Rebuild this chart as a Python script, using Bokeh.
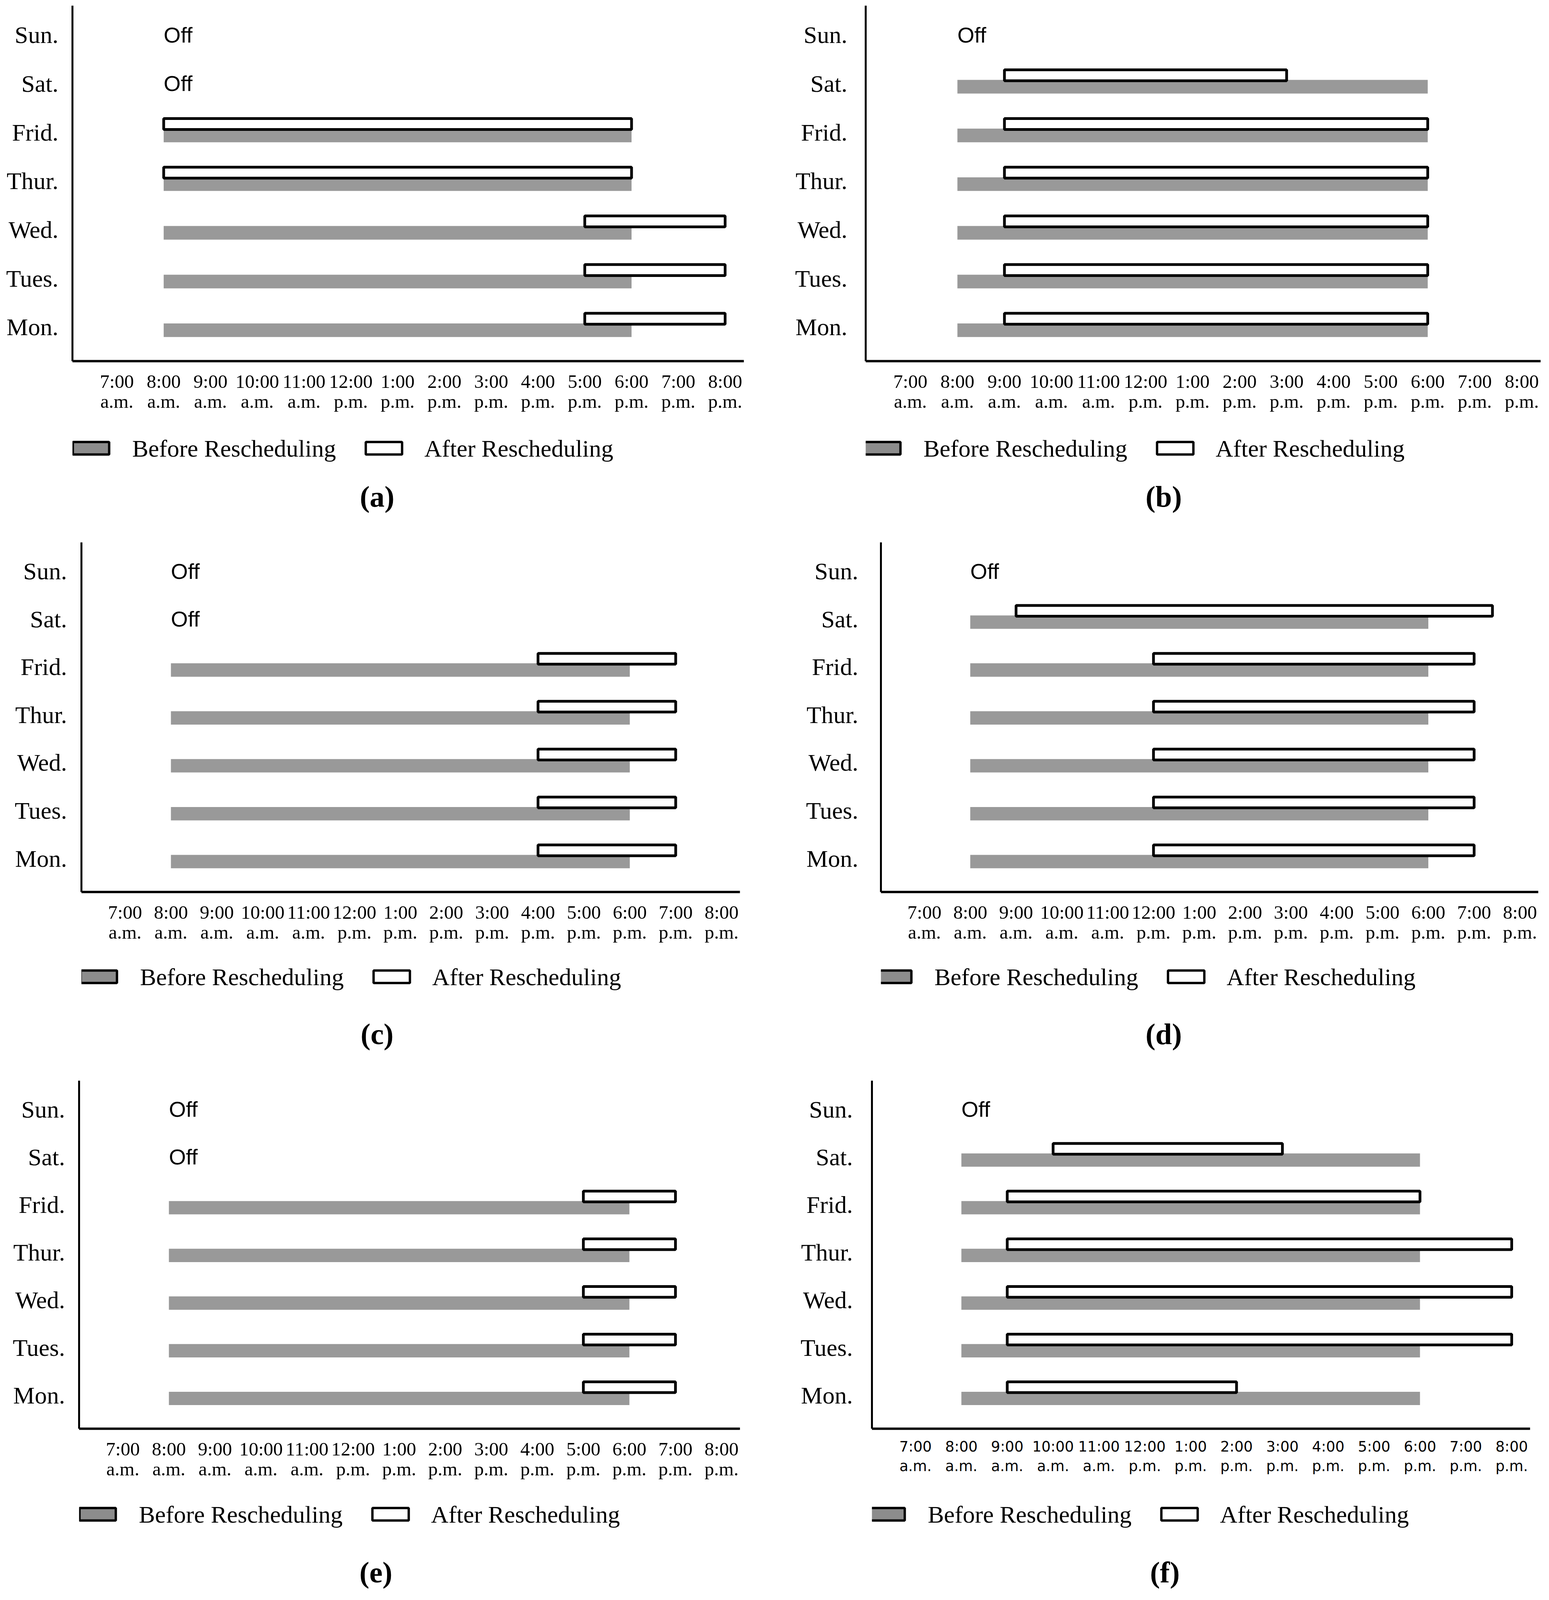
from bokeh.plotting import figure
from bokeh.models import Range1d, FixedTicker, ColumnDataSource
from bokeh.layouts import column, row
from bokeh.transform import dodge
from bokeh.core.properties import value
from bokeh.embed import file_html
from bokeh.resources import INLINE

# ---------------- data ----------------
DAYS = ["Mon.", "Tues.", "Wed.", "Thur.", "Frid.", "Sat.", "Sun."]
HOURS = [7, 8, 9, 10, 11, 12, 13, 14, 15, 16, 17, 18, 19, 20]
HOUR_LABELS = ["7:00\na.m.", "8:00\na.m.", "9:00\na.m.", "10:00\na.m.", "11:00\na.m.",
               "12:00\np.m.", "1:00\np.m.", "2:00\np.m.", "3:00\np.m.", "4:00\np.m.",
               "5:00\np.m.", "6:00\np.m.", "7:00\np.m.", "8:00\np.m."]
OFF_HOUR = 8  # the "Off" note is written where the working day would begin

# (a)
a_before_days = ["Mon.", "Tues.", "Wed.", "Thur.", "Frid."]
a_before_start = [8, 8, 8, 8, 8]
a_before_end = [18, 18, 18, 18, 18]
a_after_days = ["Mon.", "Tues.", "Wed.", "Thur.", "Frid."]
a_after_start = [17, 17, 17, 8, 8]
a_after_end = [20, 20, 20, 18, 18]
a_off_days = ["Sat.", "Sun."]

# (b)
b_before_days = ["Mon.", "Tues.", "Wed.", "Thur.", "Frid.", "Sat."]
b_before_start = [8, 8, 8, 8, 8, 8]
b_before_end = [18, 18, 18, 18, 18, 18]
b_after_days = ["Mon.", "Tues.", "Wed.", "Thur.", "Frid.", "Sat."]
b_after_start = [9, 9, 9, 9, 9, 9]
b_after_end = [18, 18, 18, 18, 18, 15]
b_off_days = ["Sun."]

# (c)
c_before_days = ["Mon.", "Tues.", "Wed.", "Thur.", "Frid."]
c_before_start = [8, 8, 8, 8, 8]
c_before_end = [18, 18, 18, 18, 18]
c_after_days = ["Mon.", "Tues.", "Wed.", "Thur.", "Frid."]
c_after_start = [16, 16, 16, 16, 16]
c_after_end = [19, 19, 19, 19, 19]
c_off_days = ["Sat.", "Sun."]

# (d)
d_before_days = ["Mon.", "Tues.", "Wed.", "Thur.", "Frid.", "Sat."]
d_before_start = [8, 8, 8, 8, 8, 8]
d_before_end = [18, 18, 18, 18, 18, 18]
d_after_days = ["Mon.", "Tues.", "Wed.", "Thur.", "Frid.", "Sat."]
d_after_start = [12, 12, 12, 12, 12, 9]
d_after_end = [19, 19, 19, 19, 19, 19.4]
d_off_days = ["Sun."]

# (e)
e_before_days = ["Mon.", "Tues.", "Wed.", "Thur.", "Frid."]
e_before_start = [8, 8, 8, 8, 8]
e_before_end = [18, 18, 18, 18, 18]
e_after_days = ["Mon.", "Tues.", "Wed.", "Thur.", "Frid."]
e_after_start = [17, 17, 17, 17, 17]
e_after_end = [19, 19, 19, 19, 19]
e_off_days = ["Sat.", "Sun."]

# (f)
f_before_days = ["Mon.", "Tues.", "Wed.", "Thur.", "Frid.", "Sat."]
f_before_start = [8, 8, 8, 8, 8, 8]
f_before_end = [18, 18, 18, 18, 18, 18]
f_after_days = ["Mon.", "Tues.", "Wed.", "Thur.", "Frid.", "Sat."]
f_after_start = [9, 9, 9, 9, 9, 10]
f_after_end = [14, 20, 20, 20, 18, 15]
f_off_days = ["Sun."]

LEGEND_LABELS = ["Before Rescheduling", "After  Rescheduling"]

# ---------------- layout / style ----------------
PW = 1975
VS = 0.912          # vertical scale so the whole page fits the visible window
SERIF = "Liberation Serif"
GREY = "#999999"


def vs(v):
    return int(round(v * VS))


PANELS = [
    dict(name="a", before=(a_before_days, a_before_start, a_before_end),
         after=(a_after_days, a_after_start, a_after_end), off=a_off_days,
         lr=(185, 1904), standoff=30, leg_x=183, cap_x=965, tick_font=SERIF, tick_size=49, tick_lh=0.94),
    dict(name="b", before=(b_before_days, b_before_start, b_before_end),
         after=(b_after_days, b_after_start, b_after_end), off=b_off_days,
         lr=(241, 1969), standoff=41, leg_x=234, cap_x=1004, tick_font=SERIF, tick_size=49, tick_lh=0.94),
    dict(name="c", before=(c_before_days, c_before_start, c_before_end),
         after=(c_after_days, c_after_start, c_after_end), off=c_off_days,
         lr=(208, 1894), standoff=31, leg_x=203, cap_x=965, tick_font=SERIF, tick_size=49, tick_lh=0.94),
    dict(name="d", before=(d_before_days, d_before_start, d_before_end),
         after=(d_after_days, d_after_start, d_after_end), off=d_off_days,
         lr=(280, 1963), standoff=52, leg_x=262, cap_x=1004, tick_font=SERIF, tick_size=49, tick_lh=0.94),
    dict(name="e", before=(e_before_days, e_before_start, e_before_end),
         after=(e_after_days, e_after_start, e_after_end), off=e_off_days,
         lr=(202, 1894), standoff=30, leg_x=200, cap_x=962, tick_font=SERIF, tick_size=49, tick_lh=0.94),
    dict(name="f", before=(f_before_days, f_before_start, f_before_end),
         after=(f_after_days, f_after_start, f_after_end), off=f_off_days,
         lr=(257, 1942), standoff=43, leg_x=245, cap_x=1007, tick_font="DejaVu Sans", tick_size=37, tick_lh=1.18),
]
# per row: frame top, frame bottom, main height, strip height, legend y, caption y
ROWS = [
    (vs(15), vs(1013), vs(1180), vs(1508) - vs(1180), vs(78), vs(213)),
    (vs(14), vs(996), vs(1165), vs(1508) - vs(1165), vs(69), vs(229)),
    (vs(17), vs(995), vs(1165), vs(4468) - 2 * vs(1508) - vs(1165), vs(70), vs(232)),
]


def make_main(P, R):
    L, Rr = P["lr"]
    top, bottom, height = R[0], R[1], R[2]
    p = figure(width=PW, height=height, title=None,
               x_range=Range1d(6.05, 20.4), y_range=Range1d(-0.7, 6.6),
               output_backend="svg", toolbar_location=None,
               min_border_left=L, min_border_right=PW - Rr,
               min_border_top=top, min_border_bottom=height - bottom)
    p.xgrid.visible = False
    p.ygrid.visible = False
    p.outline_line_color = None
    p.background_fill_color = "white"
    p.border_fill_color = "white"

    xa = p.xaxis[0]
    xa.ticker = FixedTicker(ticks=HOURS)
    xa.major_label_overrides = {h: lab for h, lab in zip(HOURS, HOUR_LABELS)}
    xa.major_tick_line_color = None
    xa.minor_tick_line_color = None
    xa.axis_line_width = 6
    xa.axis_line_color = "black"
    xa.major_label_text_font = P["tick_font"]
    xa.major_label_text_font_size = "%dpx" % P["tick_size"]
    xa.major_label_text_line_height = P["tick_lh"]
    xa.major_label_text_color = "black"
    xa.major_label_standoff = 18

    ya = p.yaxis[0]
    ya.ticker = FixedTicker(ticks=list(range(len(DAYS))))
    ya.major_label_overrides = {i: d for i, d in enumerate(DAYS)}
    ya.major_tick_line_color = None
    ya.minor_tick_line_color = None
    ya.axis_line_width = 5
    ya.axis_line_color = "black"
    ya.major_label_text_font = SERIF
    ya.major_label_text_font_size = "62px"
    ya.major_label_text_color = "black"
    ya.major_label_standoff = P["standoff"]

    bd, bs, be = P["before"]
    src_b = ColumnDataSource(dict(day=[DAYS.index(d) for d in bd], left=bs, right=be))
    p.hbar(y=dodge("day", -0.065), left="left", right="right", height=0.28,
           source=src_b, fill_color=GREY, line_color=None)

    ad, as_, ae = P["after"]
    src_a = ColumnDataSource(dict(day=[DAYS.index(d) for d in ad], left=as_, right=ae))
    p.hbar(y=dodge("day", 0.17), left="left", right="right", height=0.225,
           source=src_a, fill_color="white", line_color="black", line_width=7)

    off = P["off"]
    src_o = ColumnDataSource(dict(day=[DAYS.index(d) for d in off], x=[OFF_HOUR] * len(off),
                                  txt=["Off"] * len(off)))
    p.text(x="x", y="day", text="txt", source=src_o, text_font=value("Liberation Sans"),
           text_font_size="56px", text_baseline="middle", text_align="left", text_color="black")
    return p


def make_strip(P, R):
    L, Rr = P["lr"]
    height, leg_y, cap_y = R[3], R[4], R[5]
    # frame is aligned with the chart above it, so data x == figure pixel x
    q = figure(width=PW, height=height, title=None,
               x_range=Range1d(L, Rr), y_range=Range1d(height, 0),
               output_backend="svg", toolbar_location=None,
               min_border_left=L, min_border_right=PW - Rr, min_border_top=0, min_border_bottom=0,
               x_axis_type=None, y_axis_type=None)
    q.grid.visible = False
    q.outline_line_color = None
    x0 = P["leg_x"]
    gap = 750
    hh = 16
    q.quad(left=[x0 + 3, x0 + gap + 3], right=[x0 + 96, x0 + gap + 96],
           top=[leg_y - hh, leg_y - hh], bottom=[leg_y + hh, leg_y + hh],
           fill_color=["#8c8c8c", "white"], line_color="black", line_width=6)
    q.text(x=[x0 + 155, x0 + gap + 153], y=[leg_y, leg_y], text=LEGEND_LABELS,
           text_font=value(SERIF), text_font_size="62px", text_baseline="middle",
           text_align="left", text_color="black")
    q.text(x=[P["cap_x"]], y=[cap_y], text=["(%s)" % P["name"]],
           text_font=value(SERIF), text_font_size="76px", text_font_style="bold",
           text_baseline="middle", text_align="center", text_color="black")
    return q


rows = []
for r, R in enumerate(ROWS):
    cells = []
    for P in PANELS[2 * r: 2 * r + 2]:
        cells.append(column(make_main(P, R), make_strip(P, R)))
    rows.append(row(*cells))
layout = column(*rows)

open("out.html", "w").write(file_html(layout, INLINE, title="Rescheduling"))
